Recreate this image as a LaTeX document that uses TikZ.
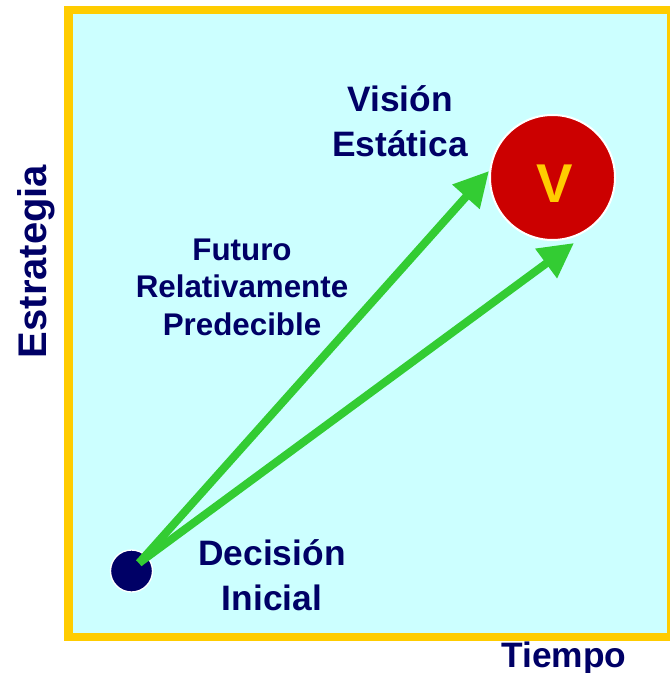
\documentclass[tikz,border=0pt]{standalone}
\usepackage{fontspec}
\setmainfont{Liberation Sans}
\usetikzlibrary{arrows.meta}
\definecolor{navy}{HTML}{000066}
\definecolor{panel}{HTML}{CCFFFF}
\definecolor{frame}{HTML}{FFCC00}
\definecolor{arrowgreen}{HTML}{33CC33}
\definecolor{vred}{HTML}{CC0000}
\tikzset{
  lbl/.style={text=navy, font=\bfseries, align=center, inner sep=0pt},
  biglbl/.style={lbl, font=\fontsize{26.5}{33.75}\selectfont\bfseries},
  smalllbl/.style={lbl, font=\fontsize{23.5}{28}\selectfont\bfseries},
  garrow/.style={draw=arrowgreen, line width=6pt, -{Triangle[length=26pt,width=26pt]}},
}
\begin{document}
\begin{tikzpicture}[x=0.75pt,y=-0.75pt]
\useasboundingbox (0,0) rectangle (669,673);
\draw[frame, fill=panel, line width=6.5pt] (68.5,10) rectangle (671,637);
\node[lbl, font=\fontsize{30}{34}\selectfont\bfseries, rotate=90, anchor=base] (yax) at (46,261.5) {Estrategia};
\node[biglbl, anchor=base] (xax) at (564,667) {Tiempo};
\node[circle, fill=vred, draw=white, line width=1.5pt, minimum size=93.75pt, inner sep=0pt] (v) at (552.5,177.5) {};
\node[text=frame, font=\fontsize{41}{45}\selectfont\bfseries, anchor=base, inner sep=0pt] (vl) at (555,203) {V};
\node[circle, fill=navy, draw=white, line width=1pt, minimum size=31.5pt, inner sep=0pt] (d) at (131.5,571) {};
\node[biglbl, anchor=base] (vis) at (400,157) {Visión\\Estática};
\node[smalllbl, anchor=base] (fut) at (242,335) {Futuro\\Relativamente\\Predecible};
\node[biglbl, anchor=base] (dec) at (272,610) {Decisión\\Inicial};
\coordinate (s) at (139,563);
\coordinate (t1) at (489,171);
\coordinate (t2) at (574,243);
\draw[garrow] (s) -- (t1);
\draw[garrow] (s) -- (t2);
\end{tikzpicture}
\end{document}
